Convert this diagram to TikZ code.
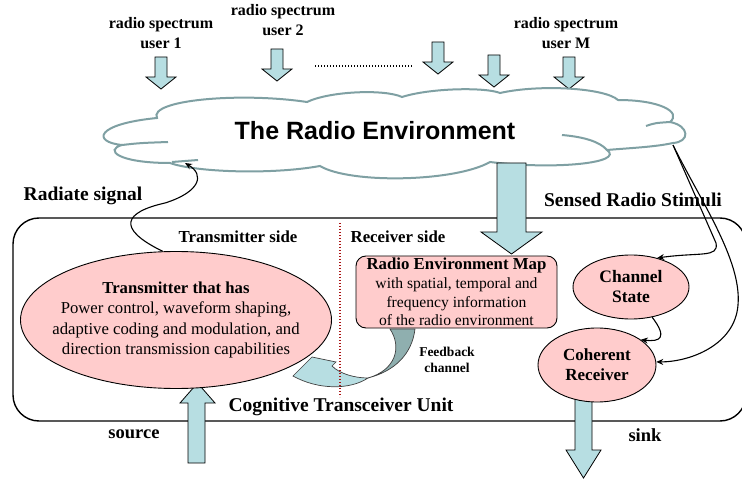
\documentclass[tikz,border=0pt]{standalone}
\usepackage{fontspec}
\setmainfont{Liberation Serif}
\newfontfamily\arialf{Liberation Sans}
\usetikzlibrary{shapes.geometric,arrows.meta}
\definecolor{arrfill}{RGB}{183,222,226}
\definecolor{arrdark}{RGB}{143,175,175}
\definecolor{pinkf}{RGB}{255,204,204}
\definecolor{cloudc}{RGB}{127,160,163}
\definecolor{dred}{RGB}{170,20,20}
\newcommand\fsz[2]{\fontsize{#1}{#2}\selectfont}
\tikzset{
  blockarrow/.style={fill=arrfill,draw=black,line width=0.8pt,line join=miter},
  darr/.pic={\draw[blockarrow] (-6,0) -- (6,0) -- (6,20) -- (15,20) -- (0,32) -- (-15,20) -- (-6,20) -- cycle;},
  pinkell/.style={ellipse,draw=black,line width=0.9pt,fill=pinkf,inner sep=0pt,align=center},
  conn/.style={draw=black,line width=1.1pt,-{Stealth[length=7pt,width=6pt]}},
  lbl/.style={inner sep=0pt,align=center,font=\bfseries\fsz{19.5}{22}},
}
\begin{document}
\begin{tikzpicture}[x=1pt,y=-1pt]
\useasboundingbox (0,0) rectangle (742,481);

% top labels
\node[lbl,font=\bfseries\fsz{16}{19.5}] (u1) at (161,33) {radio spectrum\\user 1};
\node[lbl,font=\bfseries\fsz{16}{19.5}] (u2) at (283,20) {radio spectrum\\user 2};
\node[lbl,font=\bfseries\fsz{16}{19.5}] (um) at (566,33) {radio spectrum\\user M};
\pic at (161,57) {darr};
\pic at (277,49) {darr};
\pic at (438,42) {darr};
\pic at (494,55) {darr};
\pic at (569,57) {darr};
\draw[line width=1.3pt,dash pattern=on 1.3pt off 1.7pt] (315,66) -- (413,66);

% cognitive transceiver unit frame
\draw[line width=1.4pt,rounded corners=26pt] (13,218) rectangle (746,421);

% cloud
\draw[cloudc,line width=2pt,fill=white]
 (157,118) .. controls (148,100) and (240,92) .. (307,102)
 .. controls (330,91) and (385,89) .. (402,97)
 .. controls (430,88) and (485,87) .. (500,93)
 .. controls (540,84) and (605,88) .. (618,100)
 .. controls (660,100) and (682,112) .. (670,122)
 .. controls (690,126) and (690,142) .. (673,143)
 .. controls (655,147) and (630,148) .. (607,150)
 .. controls (625,163) and (555,170) .. (490,162)
 .. controls (455,182) and (350,184) .. (320,166)
 .. controls (270,175) and (195,172) .. (170,163)
 .. controls (118,163) and (104,150) .. (122,145)
 .. controls (92,142) and (95,124) .. (157,118) -- cycle;
\draw[cloudc,line width=2pt] (122,145) .. controls (140,143) .. (168,142);
\draw[cloudc,line width=2pt] (172,162) -- (198,160);
\draw[cloudc,line width=2pt] (646,126) .. controls (655,123) .. (670,122);
\draw[cloudc,line width=2pt] (562,135) .. controls (585,137) and (600,142) .. (607,150);
\node[inner sep=0pt,font=\arialf\bfseries\fsz{25}{28}] (env) at (375,131) {The Radio Environment};
\coordinate (radend) at (185,163);
\coordinate (cloudR) at (673,145);

% big arrow into REM
\draw[blockarrow] (497,163) -- (526,163) -- (526,232) -- (542,232) -- (511.5,254) -- (481,232) -- (497,232) -- cycle;

% labels outside
\node[lbl] (rad) at (83,196) {Radiate signal};
\node[lbl] (sen) at (633,200) {Sensed Radio Stimuli};
\node[lbl,font=\bfseries\fsz{16.8}{19}] (txs) at (238,237) {Transmitter side};
\node[lbl,font=\bfseries\fsz{16.8}{19}] (rxs) at (398,237) {Receiver side};
\node[lbl,font=\bfseries\fsz{19.5}{22}] (ctu) at (341,407) {Cognitive Transceiver Unit};
\node[lbl,font=\bfseries\fsz{13.5}{16}] (fb) at (447,360) {Feedback\\channel};
\node[lbl,font=\bfseries\fsz{18.5}{20}] (src) at (134,434) {source};
\node[lbl,font=\bfseries\fsz{18.5}{20}] (snk) at (645,435) {sink};

% source arrow
\draw[blockarrow] (188,463) -- (205,463) -- (205,403) -- (215,403) -- (197.5,383) -- (180,403) -- (188,403) -- cycle;

% nodes
\node[pinkell,minimum width=311pt,minimum height=137pt] (tx) at (176,320) {};
\node[inner sep=0pt,align=center,font=\fsz{16.7}{20.3}] (txt) at (176,320)
  {\textbf{Transmitter that has}\\Power control, waveform shaping,\\adaptive coding and modulation, and\\direction transmission capabilities};
\node[draw=black,line width=0.9pt,fill=pinkf,rounded corners=10pt,minimum width=201pt,minimum height=72pt,inner sep=0pt,align=center,font=\fsz{15.6}{18.7}] (rem) at (456.5,292)
  {{\bfseries\fsz{16.8}{18.7}Radio Environment Map}\\with spatial, temporal and\\frequency information\\of the radio environment};
\node[pinkell,minimum width=116pt,minimum height=64pt,font=\bfseries\fsz{17.5}{20}] (cs) at (631,287) {Channel\\State};
\draw[blockarrow] (575,395) -- (592,395) -- (592,450) -- (601,450) -- (583.5,478) -- (566,450) -- (575,450) -- cycle;
\node[pinkell,minimum width=118pt,minimum height=74pt,font=\bfseries\fsz{17}{20}] (cr) at (597,365) {Coherent\\Receiver};

% feedback arrow
\draw[fill=arrdark,draw=black!75,line width=0.7pt]
  (390,329) .. controls (402,347) and (396,370) .. (368,378)
  .. controls (395,371) and (412,354) .. (415,329) -- cycle;
\draw[fill=arrfill,draw=black!75,line width=0.7pt,line join=miter]
  (368,378) .. controls (355,378) and (340,374) .. (332,366) -- (336,362) -- (312,357) -- (293,376)
  .. controls (318,390) and (350,390) .. (368,378) -- cycle;

% divider
\draw[dred,line width=1.3pt,dash pattern=on 1.3pt off 1.7pt] (340,223) -- (340,397);

% connectors
\draw[conn] (tx.101) .. controls (115,228) and (125,212) .. (165,203) .. controls (200,192) and (205,175) .. (radend);
\draw[conn] (cloudR) -- (716,243) .. controls (719,258) and (700,252) .. (cs.48);
\draw[conn] (cloudR) .. controls (700,200) and (742,260) .. (738,305) .. controls (735,345) and (690,362) .. (cr.3);
\draw[conn] (cs.-55) .. controls (668,338) and (660,342) .. (cr.30);
\end{tikzpicture}
\end{document}
